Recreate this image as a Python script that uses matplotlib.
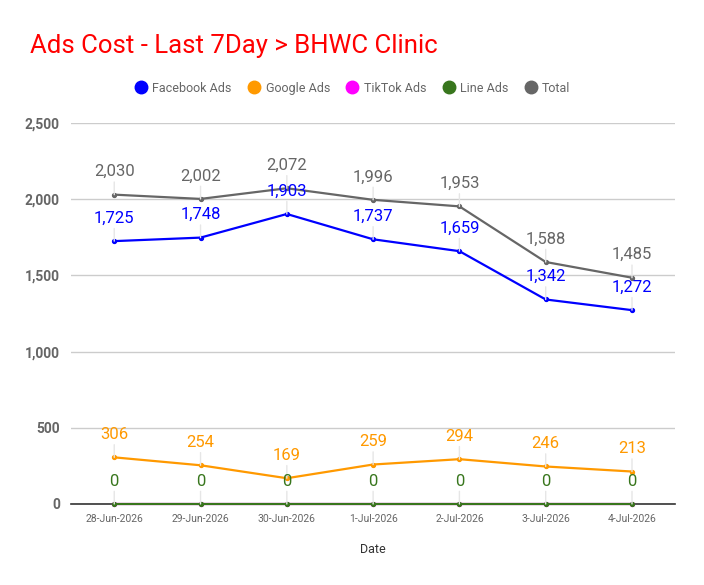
import matplotlib
matplotlib.use("Agg")
import matplotlib.pyplot as plt
from matplotlib.lines import Line2D

plt.rcParams['font.family'] = ['Roboto', 'DejaVu Sans']

dates = ['28-Jun-2026', '29-Jun-2026', '30-Jun-2026', '1-Jul-2026',
         '2-Jul-2026', '3-Jul-2026', '4-Jul-2026']
facebook = [1725, 1748, 1903, 1737, 1659, 1342, 1272]
google = [306, 254, 169, 259, 294, 246, 213]
tiktok = [0, 0, 0, 0, 0, 0, 0]
line_ads = [0, 0, 0, 0, 0, 0, 0]
total = [2030, 2002, 2072, 1996, 1953, 1588, 1485]

series = [
    ('Facebook Ads', facebook, '#0000ff', True),
    ('Google Ads', google, '#ff9900', True),
    ('TikTok Ads', tiktok, '#ff00ff', False),
    ('Line Ads', line_ads, '#38761d', True),
    ('Total', total, '#666666', True),
]

fig = plt.figure(figsize=(7.04, 5.85), dpi=100)
ax = fig.add_axes([0.101, 0.1385, 0.858, 0.6512])

x = list(range(len(dates)))
for name, vals, col, show in series:
    ax.plot(x, vals, color=col, lw=1.6, marker='o', ms=2.8, zorder=3, clip_on=False)
    if not show:
        continue
    for xi, v in zip(x, vals):
        ax.annotate(f'{v:,}', (xi, v), xytext=(0, 16.5), textcoords='offset points',
                    ha='center', va='center', fontsize=12, color=col, zorder=4,
                    arrowprops=dict(arrowstyle='-', color='#e6e6e6', lw=1,
                                    shrinkA=0, shrinkB=0))

ax.set_xlim(-0.5, len(dates) - 0.5)
ax.set_ylim(0, 2500)
ax.set_yticks([0, 500, 1000, 1500, 2000, 2500])
ax.set_yticklabels(['0', '500', '1,000', '1,500', '2,000', '2,500'],
                   fontsize=10, fontweight='bold', color='#666666')
ax.set_xticks(x)
ax.set_xticklabels(dates, fontsize=7.5, color='#666666')
ax.tick_params(length=0, pad=7)
ax.tick_params(axis='y', pad=8)
ax.grid(axis='y', color='#cccccc', lw=1)
ax.set_axisbelow(True)
for s in ['left', 'right', 'top']:
    ax.spines[s].set_visible(False)
ax.spines['bottom'].set_color('#333333')
ax.spines['bottom'].set_linewidth(1.2)
ax.set_xlabel('Date', fontsize=9, color='#333333', labelpad=14)

fig.text(0.043, 0.922, 'Ads Cost - Last 7Day > BHWC Clinic', color='#ff0000',
         fontsize=18.5, va='center')

handles = [Line2D([], [], ls='', marker='o', ms=9, color=col) for _, _, col, _ in series]
fig.legend(handles, [s[0] for s in series], loc='center', bbox_to_anchor=(0.5, 0.849),
           ncol=5, frameon=False, fontsize=9, labelcolor='#666666',
           handletextpad=0.3, columnspacing=1.2, handlelength=1.2)

fig.savefig('out.png', dpi=100)
